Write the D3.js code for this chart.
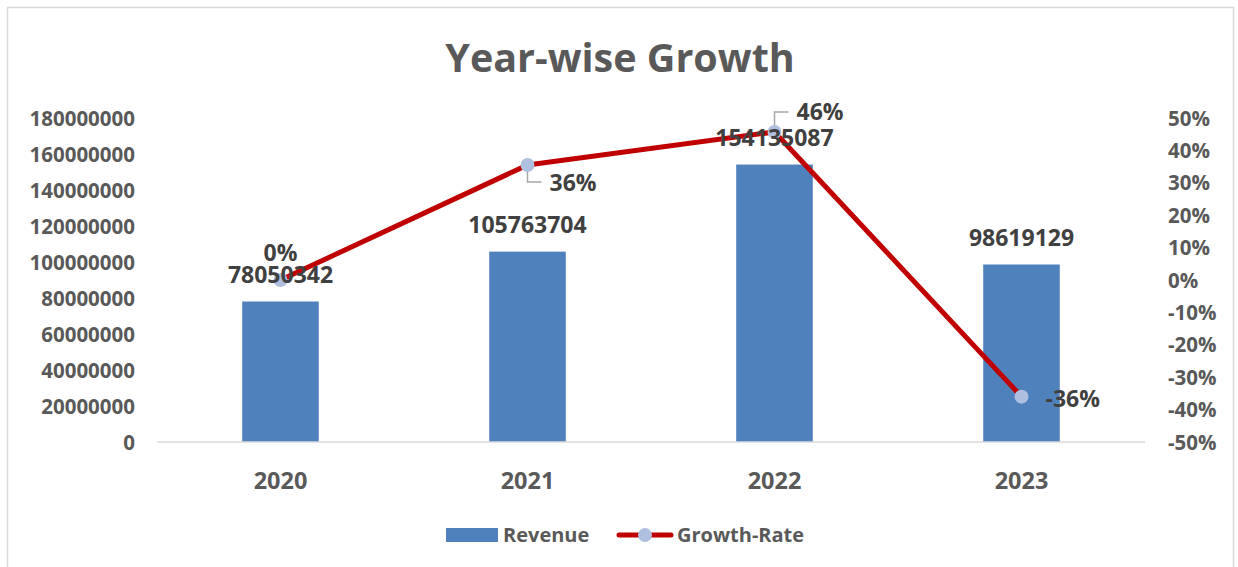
<!DOCTYPE html>
<html>
<head>
<meta charset="utf-8">
<script src="https://cdn.jsdelivr.net/npm/d3@7"></script>
<style>
    body { margin: 0; background: #fff; }
    svg { display: block; font-family: "Open Sans", "Liberation Sans", sans-serif; font-weight: bold; }
</style>
</head>
<body>
<div id="chart"></div>
<script>
// chart data
var years = ["2020", "2021", "2022", "2023"];
var revenue = [78050342, 105763704, 154135087, 98619129];
var growthRate = [0, 0.355, 0.457, -0.360];
var growthLabels = ["0%", "36%", "46%", "-36%"];
var leftTicks = [0, 20000000, 40000000, 60000000, 80000000, 100000000, 120000000, 140000000, 160000000, 180000000];
var rightTicks = [-0.5, -0.4, -0.3, -0.2, -0.1, 0, 0.1, 0.2, 0.3, 0.4, 0.5];

function init() {
    var w = 1238;
    var h = 567;
    var left = 157, right = 1145, top = 118, bottom = 442;

    var svg = d3.select("#chart")
        .append("svg")
        .attr("width", w)
        .attr("height", h);

    //chart border
    svg.append("rect")
        .attr("x", 7.5).attr("y", 7.5)
        .attr("width", 1226).attr("height", 580)
        .attr("fill", "none")
        .attr("stroke", "#d9d9d9")
        .attr("stroke-width", 1.5);

    //title
    svg.append("text")
        .attr("x", 620).attr("y", 72)
        .attr("text-anchor", "middle")
        .attr("fill", "#595959")
        .style("font-size", "39.5px")
        .text("Year-wise Growth");

    var xScale = d3.scaleBand()
        .domain(years)
        .range([left, right])
        .paddingInner(0.69)
        .paddingOuter(0.345);

    var yScale = d3.scaleLinear().domain([0, 180000000]).range([bottom, top]);
    var yRight = d3.scaleLinear().domain([-0.5, 0.5]).range([bottom, top]);

    //left axis
    var gl = svg.append("g")
        .attr("transform", "translate(" + (left - 22) + ",0)")
        .call(d3.axisLeft(yScale).tickValues(leftTicks).tickSize(0).tickPadding(0).tickFormat(d3.format("d")));
    gl.select(".domain").remove();
    gl.selectAll("text")
        .attr("fill", "#595959")
        .style("font-size", "20.5px")
        .style("font-family", "Open Sans")
        .attr("dy", "0.35em");

    //right axis, plain hyphen for negatives like the original
    var pct = d3.format(".0%");
    var gr = svg.append("g")
        .attr("transform", "translate(1168,0)")
        .call(d3.axisRight(yRight).tickValues(rightTicks).tickSize(0).tickPadding(0)
            .tickFormat(function (d) { return pct(d).replace("\u2212", "-"); }));
    gr.select(".domain").remove();
    gr.selectAll("text")
        .attr("fill", "#595959")
        .style("font-size", "20.5px")
        .style("font-family", "Open Sans")
        .attr("dy", "0.35em");

    //bars
    svg.selectAll(".bar")
        .data(revenue)
        .enter().append("rect")
        .attr("class", "bar")
        .attr("x", function (d, i) { return xScale(years[i]); })
        .attr("y", function (d) { return yScale(d); })
        .attr("width", xScale.bandwidth())
        .attr("height", function (d) { return bottom - yScale(d); })
        .attr("fill", "#4f81bd");

    //baseline
    svg.append("line")
        .attr("x1", left).attr("x2", right)
        .attr("y1", bottom).attr("y2", bottom)
        .attr("stroke", "#d9d9d9")
        .attr("stroke-width", 1.5);

    //x axis labels
    var gx = svg.append("g")
        .attr("transform", "translate(0," + bottom + ")")
        .call(d3.axisBottom(xScale).tickSize(0).tickPadding(0));
    gx.select(".domain").remove();
    gx.selectAll("text")
        .attr("y", 47)
        .attr("dy", "0")
        .attr("fill", "#595959")
        .style("font-size", "23.5px")
        .style("font-family", "Open Sans");

    //growth line
    var cx = function (i) { return xScale(years[i]) + xScale.bandwidth() / 2; };
    var line = d3.line()
        .x(function (d, i) { return cx(i); })
        .y(function (d) { return yRight(d); });

    svg.append("path")
        .datum(growthRate)
        .attr("d", line)
        .attr("fill", "none")
        .attr("stroke", "#c00000")
        .attr("stroke-width", 5)
        .attr("stroke-linejoin", "round")
        .attr("stroke-linecap", "round");

    //leader lines for growth labels (2021 and 2022)
    var leaders = [null, [0, 17, 14], [0, -20, 14], null];
    leaders.forEach(function (l, i) {
        if (!l) return;
        var x0 = cx(i), y0 = yRight(growthRate[i]);
        svg.append("path")
            .attr("d", "M" + x0 + "," + y0 + "V" + (y0 + l[1]) + "H" + (x0 + l[2]))
            .attr("fill", "none")
            .attr("stroke", "#a6a6a6")
            .attr("stroke-width", 1.5);
    });

    //markers
    svg.selectAll(".dot")
        .data(growthRate)
        .enter().append("circle")
        .attr("cx", function (d, i) { return cx(i); })
        .attr("cy", function (d) { return yRight(d); })
        .attr("r", 7)
        .attr("fill", "#aebfdf");

    //bar value labels
    svg.selectAll(".barLabel")
        .data(revenue)
        .enter().append("text")
        .attr("x", function (d, i) { return cx(i); })
        .attr("y", function (d) { return yScale(d) - 27; })
        .attr("dy", "0.35em")
        .attr("text-anchor", "middle")
        .attr("fill", "#404040")
        .style("font-size", "23px")
        .text(function (d) { return d; });

    //growth labels: offsets from the marker
    var labelPos = [[0, -27, "middle"], [22, 18, "start"], [22, -20, "start"], [24, 2, "start"]];
    svg.selectAll(".rateLabel")
        .data(growthRate)
        .enter().append("text")
        .attr("x", function (d, i) { return cx(i) + labelPos[i][0]; })
        .attr("y", function (d, i) { return yRight(d) + labelPos[i][1]; })
        .attr("dy", "0.35em")
        .attr("text-anchor", function (d, i) { return labelPos[i][2]; })
        .attr("fill", "#404040")
        .style("font-size", "23px")
        .text(function (d, i) { return growthLabels[i]; });

    //legend
    var lg = svg.append("g").attr("transform", "translate(0,535)");
    lg.append("rect")
        .attr("x", 446).attr("y", -7)
        .attr("width", 52).attr("height", 14)
        .attr("fill", "#4f81bd");
    lg.append("text")
        .attr("x", 503).attr("y", 0).attr("dy", "0.35em")
        .attr("fill", "#595959")
        .style("font-size", "20px")
        .text("Revenue");
    lg.append("line")
        .attr("x1", 619).attr("x2", 671)
        .attr("y1", 0).attr("y2", 0)
        .attr("stroke", "#c00000")
        .attr("stroke-width", 5)
        .attr("stroke-linecap", "round");
    lg.append("circle")
        .attr("cx", 645).attr("cy", 0).attr("r", 7)
        .attr("fill", "#aebfdf");
    lg.append("text")
        .attr("x", 677).attr("y", 0).attr("dy", "0.35em")
        .attr("fill", "#595959")
        .style("font-size", "20px")
        .text("Growth-Rate");
}

window.onload = init;
</script>
</body>
</html>
